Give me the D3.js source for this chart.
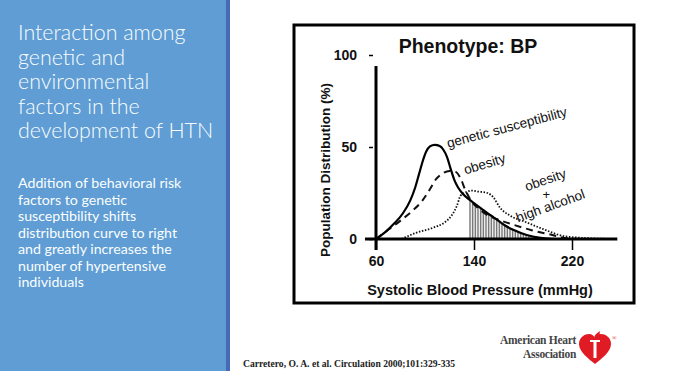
<!DOCTYPE html>
<html>
<head>
<meta charset="utf-8">
<script src="https://cdn.jsdelivr.net/npm/d3@7"></script>
<style>
  body { margin: 0; background: #fff; }
  svg { display: block; }
  .side { fill: #fbfdff; font-family: Lato, "Open Sans", sans-serif; }
  .chart text { font-family: "Liberation Sans", Arial, sans-serif; fill: #111; }
  .tick text { font-weight: bold; font-size: 14px; }
</style>
</head>
<body>
<div id="slide"></div>
<script>
// ---- data ----
var geneticBP  = [60, 68, 75, 82, 88, 92, 95, 98, 101, 104, 108, 112, 115, 118, 121, 124, 127, 131, 136, 141, 146, 151, 156, 165, 172, 183, 196, 206];
var geneticPct = [0, 4, 8.5, 14, 21, 28, 35, 42, 47.5, 50.3, 51.2, 50.5, 48.5, 44.5, 38, 32, 28, 24.5, 21.5, 19, 16.5, 14, 11.8, 7.5, 5, 2.2, 0.5, 0];

var obesityBP  = [60, 70, 80, 90, 98, 104, 109, 114, 120, 125, 129, 133, 138, 143, 151, 160, 171, 187, 204, 214, 225];
var obesityPct = [0, 5, 10, 15.5, 21, 27, 32.5, 35.5, 37, 36.5, 33, 26.5, 20.5, 17, 13, 10.5, 8, 4.8, 2.2, 0.6, 0];

var alcoholBP  = [81, 92, 106, 116, 122, 126, 129, 133, 138, 143, 151, 156, 161, 169, 183, 196, 214, 235, 257];
var alcoholPct = [0, 3.2, 6, 9, 13, 18, 23.5, 25.3, 26.3, 25.8, 25, 22.5, 17.2, 12.9, 9, 5.5, 1.5, 0.4, 0];

var hypertensiveFrom = 136;   // shaded tail of the genetic curve

var xTicks = [60, 140, 220];
var yTicks = [0, 50, 100];

var titleLines = ["Interaction among", "genetic and", "environmental", "factors in the", "development of HTN"];
var bodyLines = ["Addition of behavioral risk", "factors to genetic", "susceptibility shifts",
  "distribution curve to right", "and greatly increases the", "number of hypertensive", "individuals"];

// annotation labels: [text, bp, pct, angle]
var labels = [
  ["genetic susceptibility", 119, 49.5, -15],
  ["obesity", 133, 35, -17],
  ["obesity", 183, 26, -19],
  ["high alcohol", 176, 9, -20]
];

var W = 686, H = 371;

var svg = d3.select("#slide").append("svg")
  .attr("width", W)
  .attr("height", H);

// ---- left blue panel ----
svg.append("rect").attr("x", 0).attr("y", 0).attr("width", 226).attr("height", H).attr("fill", "#5f9dd4");
svg.append("rect").attr("x", 226).attr("y", 0).attr("width", 4).attr("height", H).attr("fill", "#4869b5");

svg.append("g").selectAll("text")
  .data(titleLines)
  .enter()
  .append("text")
  .attr("class", "side")
  .attr("x", 18)
  .attr("y", (d, i) => 40 + i * 24.5)
  .attr("font-size", "21.4px")
  .attr("font-weight", 300)
  .text(d => d);

svg.append("g").selectAll("text")
  .data(bodyLines)
  .enter()
  .append("text")
  .attr("class", "side")
  .attr("x", 18)
  .attr("y", (d, i) => 188 + i * 16.5)
  .attr("font-size", "14.2px")
  .text(d => d);

// ---- chart frame ----
svg.append("rect")
  .attr("x", 294).attr("y", 25)
  .attr("width", 340).attr("height", 278)
  .attr("fill", "none")
  .attr("stroke", "#000")
  .attr("stroke-width", 3);

var chart = svg.append("g").attr("class", "chart");

var x = d3.scaleLinear().domain([60, 220]).range([376, 572]);
var y = d3.scaleLinear().domain([0, 100]).range([239, 55]);

// hatch pattern
var defs = svg.append("defs");
defs.append("pattern")
  .attr("id", "hatch")
  .attr("patternUnits", "userSpaceOnUse")
  .attr("width", 1.6).attr("height", 4)
  .append("rect")
  .attr("width", 0.8).attr("height", 4)
  .attr("fill", "#666");

function pts(bp, pct) { return bp.map((b, i) => [b, pct[i]]); }

var genetic = pts(geneticBP, geneticPct);
var obesity = pts(obesityBP, obesityPct);
var alcohol = pts(alcoholBP, alcoholPct);

var line = d3.line()
  .x(d => x(d[0]))
  .y(d => y(d[1]))
  .curve(d3.curveMonotoneX);

// shaded hypertensive area under the genetic curve
var area = d3.area()
  .x(d => x(d[0]))
  .y0(y(0))
  .y1(d => y(d[1]))
  .curve(d3.curveMonotoneX);

defs.append("clipPath").attr("id", "tail")
  .append("rect")
  .attr("x", x(hypertensiveFrom)).attr("y", 0)
  .attr("width", 300).attr("height", y(0));

chart.append("path")
  .datum(genetic)
  .attr("d", area)
  .attr("fill", "url(#hatch)")
  .attr("clip-path", "url(#tail)");

chart.append("path")
  .datum(alcohol)
  .attr("d", line)
  .attr("fill", "none")
  .attr("stroke", "#111")
  .attr("stroke-width", 1.8)
  .attr("stroke-dasharray", "1.5,1.6");

chart.append("path")
  .datum(obesity)
  .attr("d", line)
  .attr("fill", "none")
  .attr("stroke", "#111")
  .attr("stroke-width", 2)
  .attr("stroke-dasharray", "7,5");

chart.append("path")
  .datum(genetic)
  .attr("d", line)
  .attr("fill", "none")
  .attr("stroke", "#000")
  .attr("stroke-width", 2.2);

// axes
var bottomAxis = d3.axisBottom(x).tickValues(xTicks).tickSize(11).tickPadding(6).tickFormat(d3.format("d"));
var leftAxis = d3.axisLeft(y).tickValues(yTicks).tickSize(4).tickPadding(12).tickFormat(d3.format("d"));

var xAxis = chart.append("g")
  .attr("transform", `translate(0, ${y(0)})`)
  .call(bottomAxis);
xAxis.select(".domain").remove();
xAxis.selectAll(".tick line").attr("stroke", "#000").attr("stroke-width", 1.5);

var yAxis = chart.append("g")
  .attr("transform", `translate(${x(60) - 3}, 0)`)
  .call(leftAxis);
yAxis.select(".domain").remove();
yAxis.selectAll(".tick line").attr("stroke", "#000").attr("stroke-width", 1.5);

// axis lines
chart.append("line")
  .attr("x1", x(51)).attr("x2", x(257))
  .attr("y1", y(0)).attr("y2", y(0))
  .attr("stroke", "#000").attr("stroke-width", 3);

chart.append("line")
  .attr("x1", x(60)).attr("x2", x(60))
  .attr("y1", y(94)).attr("y2", y(0) + 11)
  .attr("stroke", "#000").attr("stroke-width", 3);

// titles
chart.append("text")
  .attr("x", 468).attr("y", 53)
  .attr("text-anchor", "middle")
  .attr("font-size", "19.5px")
  .attr("font-weight", "bold")
  .text("Phenotype: BP");

chart.append("text")
  .attr("x", 480).attr("y", 295)
  .attr("text-anchor", "middle")
  .attr("font-size", "14.5px")
  .attr("font-weight", "bold")
  .text("Systolic Blood Pressure (mmHg)");

chart.append("text")
  .attr("transform", "translate(330, 170) rotate(-90)")
  .attr("text-anchor", "middle")
  .attr("font-size", "13.5px")
  .attr("font-weight", "bold")
  .text("Population Distribution (%)");

// curve annotations
chart.selectAll(".note")
  .data(labels)
  .enter()
  .append("text")
  .attr("class", "note")
  .attr("transform", d => `translate(${x(d[1])}, ${y(d[2])}) rotate(${d[3]})`)
  .attr("font-size", "13.5px")
  .text(d => d[0]);

chart.append("text")
  .attr("x", x(199)).attr("y", y(22))
  .attr("text-anchor", "middle")
  .attr("font-size", "13px")
  .text("+");

// ---- footer ----
svg.append("text")
  .attr("x", 243).attr("y", 367)
  .attr("font-family", "'Liberation Serif', serif")
  .attr("font-weight", "bold")
  .attr("font-size", "9.6px")
  .attr("fill", "#222")
  .text("Carretero, O. A. et al. Circulation 2000;101:329-335");

var logo = svg.append("g").attr("font-family", "'Liberation Serif', serif")
  .attr("font-weight", "bold").attr("fill", "#444");
logo.append("text").attr("x", 576).attr("y", 344).attr("text-anchor", "end")
  .attr("font-size", "11.5px").attr("letter-spacing", "-0.3").text("American Heart");
logo.append("text").attr("x", 576).attr("y", 357.5).attr("text-anchor", "end")
  .attr("font-size", "11.5px").attr("letter-spacing", "-0.3").text("Association");

var heart = svg.append("g").attr("transform", "translate(595, 349)");
heart.append("path")
  .attr("d", "M0,15 C-6,10 -16,3 -16,-5 C-16,-12 -10,-15 -6,-15 C-3,-15 -1,-13 0,-11 C1,-13 3,-15 6,-15 C10,-15 16,-12 16,-5 C16,3 6,10 0,15 Z")
  .attr("fill", "#e01b24");
heart.append("path")
  .attr("d", "M-5,-9 L5,-9 L5,-7 L1.5,-7 L1.5,9 L-1.5,9 L-1.5,-7 L-5,-7 Z")
  .attr("fill", "#fff");
heart.append("path")
  .attr("d", "M0,-10 C-2,-13 1,-15 5,-18 C4,-15 6,-13 3,-10 Z")
  .attr("fill", "#e01b24");
svg.append("text").attr("x", 612).attr("y", 340).attr("font-size", "6px").attr("fill", "#e01b24").text("®");
</script>
</body>
</html>
